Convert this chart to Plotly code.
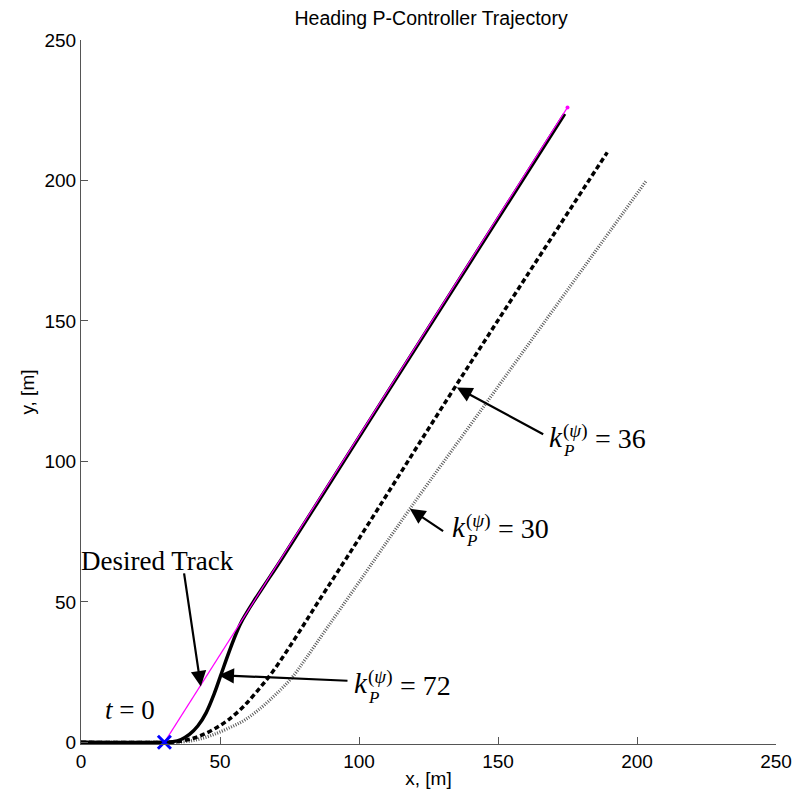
import plotly.graph_objects as go

# Desired straight-line track (start point and end point)
track_x = [30.0, 175.0]
track_y = [0.0, 226.0]

# Trajectories for three heading P-controller gains
kp72_x = [0, 30, 33, 36, 39, 42, 45, 48, 50.5, 53, 55.5, 57.5, 59.5, 62, 66, 72, 85, 110, 140, 174]
kp72_y = [0, 0, 0.2, 1.0, 2.8, 5.8, 10.5, 17.5, 24.5, 31.5, 38.0, 42.5, 46.0, 50.0, 56.0, 65.0, 85.2, 124.2, 170.9, 223.7]

kp36_x = [0, 30, 35, 40, 44, 48.4, 53, 58, 63, 69, 77, 85, 100, 131.4, 160, 189.3]
kp36_y = [0, 0, 0.3, 1.3, 2.8, 5.0, 8.0, 12.3, 17.8, 25.2, 37.0, 49.5, 72.5, 121.6, 165.5, 210.0]

kp30_x = [0, 30, 37, 42, 47, 53, 59, 65, 70, 75.6, 81, 88.7, 100, 118.3, 146.8, 175, 203.2]
kp30_y = [0, 0, 0.2, 1.0, 2.5, 5.0, 8.0, 12.5, 17.0, 22.7, 30.0, 41.0, 57.0, 83.1, 122.2, 161.0, 199.7]

start_x = [30.0]
start_y = [0.0]

tick_vals = [0, 50, 100, 150, 200, 250]

SANS = "Liberation Sans"
SERIF = "Liberation Serif"

fig = go.Figure()

fig.add_trace(go.Scatter(x=kp30_x, y=kp30_y, mode="lines",
                         line=dict(color="#5a5a5a", width=3.2, dash="1px,1.5px", shape="spline"),
                         showlegend=False))
fig.add_trace(go.Scatter(x=kp36_x, y=kp36_y, mode="lines",
                         line=dict(color="black", width=3.5, dash="5px,3px", shape="spline"),
                         showlegend=False))
fig.add_trace(go.Scatter(x=kp72_x, y=kp72_y, mode="lines",
                         line=dict(color="black", width=3.5, shape="spline"),
                         showlegend=False))
fig.add_trace(go.Scatter(x=track_x, y=track_y, mode="lines",
                         line=dict(color="#ff00ff", width=1.2),
                         showlegend=False))
fig.add_trace(go.Scatter(x=[track_x[-1]], y=[track_y[-1]], mode="markers",
                         marker=dict(color="#ff00ff", size=4),
                         showlegend=False, cliponaxis=False))
fig.add_trace(go.Scatter(x=start_x, y=start_y, mode="markers",
                         marker=dict(symbol="x-thin", size=13, color="blue",
                                     line=dict(color="blue", width=3)),
                         showlegend=False, cliponaxis=False))

annotations = []

# Arrows (tail -> tip in data coordinates)
arrows = [
    ((37.0, 60.7), (43.1, 19.9)),     # Desired Track
    ((96.4, 21.9), (49.5, 23.9)),     # k = 72
    ((130.8, 74.8), (118.3, 83.1)),   # k = 30
    ((166.8, 109.4), (135.2, 126.3)), # k = 36
]
for (tx, ty), (hx, hy) in arrows:
    annotations.append(dict(x=hx, y=hy, ax=tx, ay=ty, xref="x", yref="y",
                            axref="x", ayref="y", text="", showarrow=True,
                            arrowhead=2, arrowsize=1.4, arrowwidth=2.2,
                            arrowcolor="black", standoff=0))

annotations.append(dict(x=0.3, y=64.6, xref="x", yref="y", text="Desired Track",
                        showarrow=False, xanchor="left", yanchor="middle", xshift=-3,
                        font=dict(family=SERIF, size=27, color="black")))
annotations.append(dict(x=7.8, y=11.5, xref="x", yref="y", text="<i>t</i> = 0",
                        showarrow=False, xanchor="left", yanchor="middle",
                        font=dict(family=SERIF, size=27, color="black")))

# Gain labels: k with stacked subscript P and superscript (psi)
gain_labels = [("72", 97.6, 21.0), ("30", 132.6, 76.7), ("36", 167.6, 108.7)]
for val, gx, gy in gain_labels:
    annotations.append(dict(x=gx, y=gy, xref="x", yref="y", text="<i>k</i>",
                            showarrow=False, xanchor="left", yanchor="middle",
                            font=dict(family=SERIF, size=29, color="black")))
    annotations.append(dict(x=gx, y=gy, xref="x", yref="y", text="<i>P</i>",
                            showarrow=False, xanchor="left", yanchor="middle",
                            xshift=14, yshift=-14,
                            font=dict(family=SERIF, size=17, color="black")))
    annotations.append(dict(x=gx, y=gy, xref="x", yref="y", text="(<i>ψ</i>)",
                            showarrow=False, xanchor="left", yanchor="middle",
                            xshift=14, yshift=6,
                            font=dict(family=SERIF, size=19, color="black")))
    annotations.append(dict(x=gx, y=gy, xref="x", yref="y", text="= " + val,
                            showarrow=False, xanchor="left", yanchor="middle",
                            xshift=46, yshift=-2,
                            font=dict(family=SERIF, size=28, color="black")))

axis_common = dict(
    showline=True, linecolor="#555555", linewidth=1,
    ticks="inside", ticklen=7, tickcolor="#555555", tickwidth=1,
    showgrid=False, zeroline=False,
    tickvals=tick_vals,
    tickfont=dict(family=SANS, size=19, color="black"),
)

fig.update_layout(
    width=804, height=801,
    margin=dict(l=81, r=22, t=40, b=57),
    paper_bgcolor="white", plot_bgcolor="white",
    title=dict(text="Heading P-Controller Trajectory", x=0.5362, xanchor="center",
               y=1 - 18 / 801, yanchor="middle",
               font=dict(family=SANS, size=19.5, color="black")),
    xaxis=dict(range=[0, 250], title=dict(text="x, [m]", standoff=0,
               font=dict(family=SANS, size=19, color="black")), **axis_common),
    yaxis=dict(range=[-0.6, 250], title=dict(text="y, [m]", standoff=4,
               font=dict(family=SANS, size=19, color="black")), **axis_common),
    annotations=annotations,
)

fig.write_html("out.html")
